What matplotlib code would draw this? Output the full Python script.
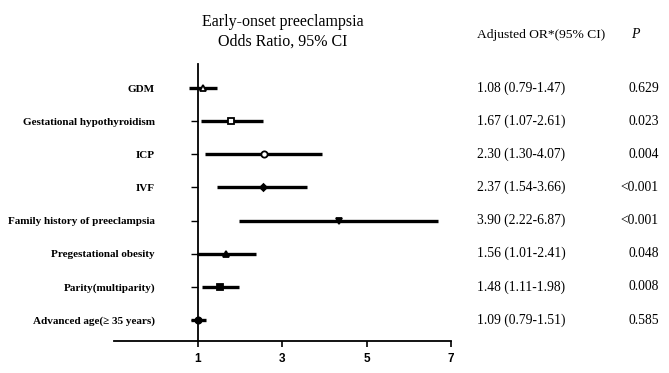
import matplotlib
matplotlib.use("Agg")
import matplotlib.pyplot as plt

# rows listed top to bottom
labels = ['GDM', 'Gestational hypothyroidism', 'ICP', 'IVF',
          'Family history of preeclampsia', 'Pregestational obesity',
          'Parity(multiparity)', 'Advanced age(\u2265 35 years)']
# point estimates and CI ends as drawn in the figure
or_point = [1.12, 1.78, 2.56, 2.53, 4.34, 1.66, 1.52, 1.01]
ci_low = [0.79, 1.07, 1.17, 1.46, 1.98, 0.98, 1.09, 0.83]
ci_high = [1.45, 2.55, 3.95, 3.59, 6.69, 2.37, 1.97, 1.20]
or_text = ['1.08 (0.79-1.47)', '1.67 (1.07-2.61)', '2.30 (1.30-4.07)',
           '2.37 (1.54-3.66)', '3.90 (2.22-6.87)', '1.56 (1.01-2.41)',
           '1.48 (1.11-1.98)', '1.09 (0.79-1.51)']
p_text = ['0.629', '0.023', '0.004', '<0.001', '<0.001', '0.048', '0.008', '0.585']
markers = ['^', 's', 'o', 'D', 'v', '^', 's', 'o']
filled = [False, False, False, True, True, True, True, True]
xticks = [1, 3, 5, 7]

serif = ['Liberation Serif', 'DejaVu Serif']
sans = ['Liberation Sans', 'DejaVu Sans']

fig = plt.figure(figsize=(6.69, 3.73), dpi=100)
ax = fig.add_axes([0.170, 0.086, 0.504, 0.742])

n = len(labels)
ys = list(range(n, 0, -1))
for i in range(n):
    ax.plot([ci_low[i], ci_high[i]], [ys[i], ys[i]], color='black', lw=2.4,
            solid_capstyle='butt', zorder=2)
    ax.plot(or_point[i], ys[i], marker=markers[i], ms=4.5 if markers[i] != 'D' else 3.5,
            mfc='black' if filled[i] else 'white', mec='black', mew=1.3,
            linestyle='none', zorder=3)

ax.set_xlim(-1, 7)
ax.set_ylim(0.37, 8.72)
ax.spines['top'].set_visible(False)
ax.spines['right'].set_visible(False)
ax.spines['left'].set_position(('data', 1))
ax.spines['left'].set_linewidth(1.3)
ax.spines['bottom'].set_linewidth(1.3)

ax.set_xticks(xticks)
ax.set_xticklabels([str(t) for t in xticks], family=sans, fontweight='bold', fontsize=8.5)
ax.tick_params(axis='x', direction='out', length=4, width=1.2, pad=5)
ax.set_yticks(ys)
ax.set_yticklabels(labels, family=serif, fontweight='bold', fontsize=8)
ax.tick_params(axis='y', direction='out', length=5, width=1.0, pad=26)

tr = ax.get_yaxis_transform()
ax.text(0.5, 9.69, 'Early-onset preeclampsia\nOdds Ratio, 95% CI', transform=tr,
        ha='center', va='center', family=serif, fontsize=11.5, linespacing=1.3)
ax.text(1.077, 9.6, 'Adjusted OR*(95% CI)', transform=tr, ha='left', va='center',
        family=serif, fontsize=9.7)
ax.text(1.535, 9.6, 'P', transform=tr, ha='left', va='center',
        family=serif, fontsize=10, style='italic')
for i in range(n):
    ax.text(1.077, ys[i], or_text[i], transform=tr, ha='left', va='center',
            family=serif, fontsize=9.8)
    ax.text(1.617, ys[i], p_text[i], transform=tr, ha='right', va='center',
            family=serif, fontsize=9.8)

fig.savefig('out.png', dpi=100)
